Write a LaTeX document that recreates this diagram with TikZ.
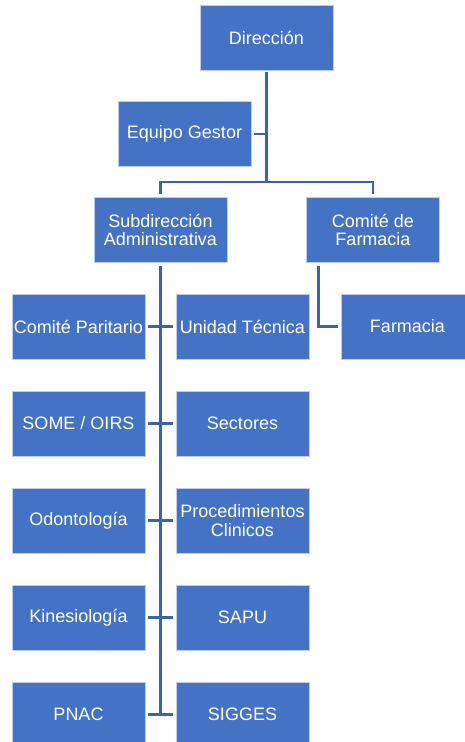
\documentclass[tikz,border=0pt]{standalone}
\usepackage{fontspec}
\setmainfont{Liberation Sans}
\definecolor{boxblue}{HTML}{4472C4}
\definecolor{lineblue}{HTML}{3A63AD}
\begin{document}
\begin{tikzpicture}[x=1pt,y=-1pt,
  orgbox/.style={rectangle, fill=boxblue, draw=white!65!boxblue, line width=0.6pt,
    minimum width=133pt, minimum height=65pt, inner sep=0pt, align=center,
    text=white, font=\fontsize{18}{18.5}\selectfont},
  conn/.style={draw=lineblue, line width=2.6pt}]
\useasboundingbox (0,0) rectangle (465,742);
\clip (0,0) rectangle (465,742);
\node[orgbox] (dir) at (266.5,37.5) {Dirección};
\node[orgbox] (eq) at (184.5,134) {Equipo Gestor};
\node[orgbox] (sub) at (160.5,230) {Subdirección\\Administrativa};
\node[orgbox] (cf) at (373,230) {Comité de\\Farmacia};
\node[orgbox] (cp) at (78.5,326.5) {Comité Paritario};
\node[orgbox] (ut) at (242.5,326.5) {Unidad Técnica};
\node[orgbox] (far) at (407.5,326.5) {Farmacia};
\node[orgbox] (some) at (78.5,423.5) {SOME / OIRS};
\node[orgbox] (sec) at (242.5,423.5) {Sectores};
\node[orgbox] (odo) at (78.5,520.5) {Odontología};
\node[orgbox] (proc) at (242.5,520.5) {Procedimientos\\Clinicos};
\node[orgbox] (kin) at (78.5,617.5) {Kinesiología};
\node[orgbox] (sapu) at (242.5,617.5) {SAPU};
\node[orgbox] (pnac) at (78.5,714.5) {PNAC};
\node[orgbox] (sig) at (242.5,714.5) {SIGGES};
\coordinate (hub) at (266.5,182);
\coordinate (spineend) at (160.5,714.5);
% top level
\draw[conn, shorten <=2pt] (dir.south) -- (hub);
\draw[conn, shorten <=3pt] (eq.east) -- (eq.east -| hub);
\draw[conn, shorten >=3pt] (hub) -| (sub.north);
\draw[conn, shorten >=3pt] (hub) -| (cf.north);
% spine
\draw[conn, shorten <=3pt] (sub.south) -- (spineend);
% rows
\foreach \l/\r in {cp/ut, some/sec, odo/proc, kin/sapu, pnac/sig}
  \draw[conn, shorten <=3pt, shorten >=3pt] (\l.east) -- (\r.west);
% farmacia
\draw[conn, shorten <=3pt, shorten >=3pt] ([xshift=12pt]cf.south west) |- (far.west);
\end{tikzpicture}
\end{document}
